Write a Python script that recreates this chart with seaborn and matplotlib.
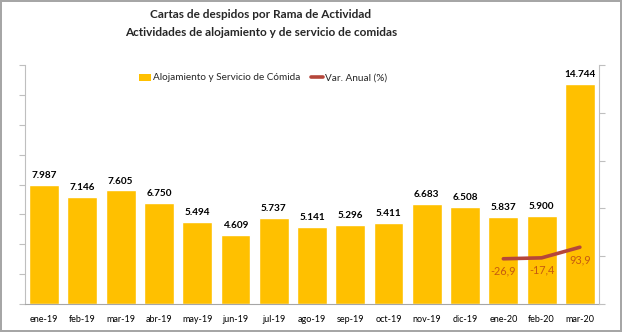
import matplotlib
matplotlib.use("Agg")
import matplotlib.pyplot as plt
import seaborn as sns
import pandas as pd
import numpy as np
from matplotlib.patches import Patch
from matplotlib.lines import Line2D

months = ["ene-19", "feb-19", "mar-19", "abr-19", "may-19", "jun-19", "jul-19",
          "ago-19", "sep-19", "oct-19", "nov-19", "dic-19", "ene-20", "feb-20", "mar-20"]
cartas = [7987, 7146, 7605, 6750, 5494, 4609, 5737, 5141, 5296, 5411, 6683, 6508, 5837, 5900, 14744]
var_months = ["ene-20", "feb-20", "mar-20"]
var_anual = [-26.9, -17.4, 93.9]

title1 = "Cartas de despidos por Rama de Actividad"
title2 = "Actividades de alojamiento y de servicio de comidas"
bar_label = "Alojamiento y Servicio de Cómida"
line_label = "Var. Anual (%)"

BAR = "#FFC000"
LINE = "#B5463A"
PCT = "#C55A11"
AXC = "#BFBFBF"

sns.set_style("white")
plt.rcParams["font.family"] = ["Lato", "DejaVu Sans"]

fig = plt.figure(figsize=(6.22, 3.32), dpi=100)
fig.patch.set_edgecolor("#A6A6A6")
fig.patch.set_linewidth(1.5)
ax = fig.add_axes([25/622, 28/332, 574/622, 239/332])

df = pd.DataFrame({"mes": months, "cartas": cartas})
sns.barplot(data=df, x="mes", y="cartas", color=BAR, saturation=1, width=0.78, ax=ax)
ax.set_xlim(-0.5, len(months) - 0.5)
ax.set_ylim(0, 16000)
ax.set_yticks(np.arange(0, 16001, 2000))
ax.set_yticklabels([])
ax.set_xlabel("")
ax.set_ylabel("")
ax.tick_params(axis="x", length=0, labelsize=6.5, pad=8, colors="#000000")
ax.set_xticks(np.arange(-0.5, len(months), 1), minor=True)
ax.tick_params(axis="x", which="minor", length=4, color="#A6A6A6", width=0.8)
ax.tick_params(axis="y", length=4, color=AXC, width=0.8, left=True)
ax.spines["top"].set_visible(False)
ax.spines["right"].set_visible(False)
ax.spines["left"].set_color(AXC)
ax.spines["bottom"].set_color("#A6A6A6")
ax.spines["left"].set_linewidth(0.8)
ax.spines["bottom"].set_linewidth(0.8)

labels = [f"{v:,}".replace(",", ".") for v in cartas]
ax.bar_label(ax.containers[0], labels=labels, padding=3.5, fontsize=7.2, fontweight="bold", color="#000000")

ax2 = ax.twinx()
ax2.set_position(ax.get_position())
dfl = pd.DataFrame({"pos": [months.index(m) for m in var_months], "var": var_anual})
sns.lineplot(data=dfl, x="pos", y="var", color=LINE, linewidth=2.6, ax=ax2)
ax2.set_ylim(-500, 2000)
ax2.set_yticks(np.arange(-500, 2001, 500))
ax2.set_yticklabels([])
ax2.set_ylabel("")
ax2.set_xlabel("")
ax2.tick_params(axis="y", length=4, color=AXC, width=0.8, right=True)
for s in ["top", "left", "bottom"]:
    ax2.spines[s].set_visible(False)
ax2.spines["right"].set_color(AXC)
ax2.spines["right"].set_linewidth(0.8)
ax2.set_xlim(-0.5, len(months) - 0.5)
for x, v in zip(dfl["pos"], dfl["var"]):
    ax2.text(x, v - 130, f"{v:.1f}".replace(".", ","), ha="center", va="center",
             fontsize=7.8, color=PCT)

fig.text(261/622, 1 - 15/332, title1, ha="center", va="center", fontsize=8.5, fontweight="bold")
fig.text(261/622, 1 - 32/332, title2, ha="center", va="center", fontsize=8.5, fontweight="bold")

handles = [Patch(facecolor=BAR, edgecolor="none"), Line2D([0], [0], color=LINE, lw=2.6)]
fig.legend(handles, [bar_label, line_label], loc="center", bbox_to_anchor=(263/622, 1 - 78/332),
           ncol=2, frameon=False, fontsize=7.2, handlelength=1.2, handletextpad=0.2, columnspacing=1.0)

fig.savefig("out.png", dpi=100, edgecolor=fig.get_edgecolor())
